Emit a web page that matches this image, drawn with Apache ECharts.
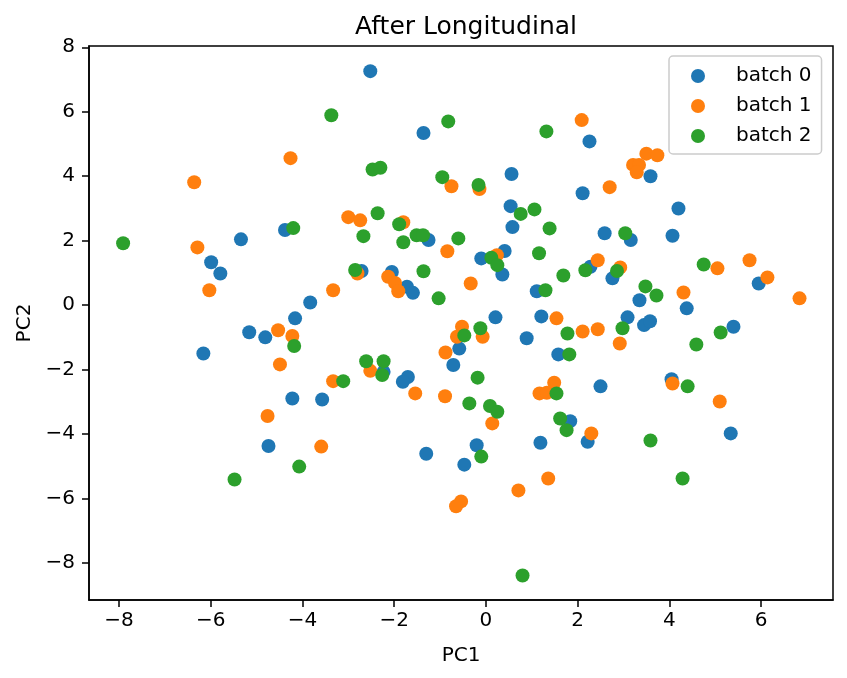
<!DOCTYPE html>
<html>
<head>
<meta charset="utf-8">
<script src="https://cdn.jsdelivr.net/npm/echarts@6/dist/echarts.min.js"></script>
<style>
  html, body { margin: 0; padding: 0; background: #fff; }
  #chart { width: 847px; height: 678px; }
</style>
</head>
<body>
<div id="chart"></div>
<script>
// values
const batchNames = ['batch 0', 'batch 1', 'batch 2'];
const colors = ['#1f77b4', '#ff7f0e', '#2ca02c'];

const batch0X = [-2.52, -1.36, -4.38, -1.25, -2.71, -2.05, -1.72, -1.59, -3.83, -4.16,
  -0.58, -0.71, -2.23, -1.70, -1.81, -4.22, -3.57, -5.34, -5.99, -5.79,
  -5.16, -4.81, -6.16, -4.74, -1.30, -0.47, -0.20, 1.19, 1.84, 2.22,
  5.34, 0.58, 2.59, 3.16, -0.10, 0.41, 0.36, 2.28, 2.76, 1.11,
  3.35, 3.09, 3.45, 3.58, 0.21, 1.21, 0.89, 1.58, 2.50, 2.26,
  3.59, 0.56, 2.11, 0.54, 4.20, 4.07, 5.95, 4.38, 5.40, 4.05];
const batch0Y = [7.26, 5.34, 2.33, 2.02, 1.06, 1.03, 0.57, 0.38, 0.08, -0.41,
  -1.35, -1.86, -2.07, -2.23, -2.38, -2.90, -2.93, 2.04, 1.33, 0.98,
  -0.84, -1.00, -1.50, -4.37, -4.61, -4.95, -4.35, -4.27, -3.60, -4.24,
  -3.98, 2.42, 2.23, 2.02, 1.45, 1.68, 0.95, 1.19, 0.83, 0.43,
  0.15, -0.38, -0.62, -0.50, -0.38, -0.35, -1.03, -1.53, -2.52, 5.08,
  4.00, 4.07, 3.47, 3.07, 3.00, 2.15, 0.67, -0.10, -0.67, -2.30];

const batch1X = [-6.36, -4.26, -0.75, -0.14, -3.00, -2.74, -1.80, -0.84, -2.80, -2.13,
  -1.98, -1.91, -0.33, -3.33, -4.53, -4.22, -4.49, -0.52, -0.63, -0.88,
  -2.52, -3.33, -1.54, -0.89, -6.29, -6.03, -4.76, -3.59, -0.54, -0.65,
  0.14, 2.30, 0.71, 1.36, 0.24, 2.44, 2.93, -0.07, 2.92, 1.54,
  2.11, 2.44, 1.49, 1.17, 1.33, 2.09, 3.50, 3.74, 3.21, 3.34,
  3.29, 2.70, 5.05, 5.75, 6.14, 6.84, 4.31, 4.07, 5.10];
const batch1Y = [3.81, 4.56, 3.69, 3.60, 2.73, 2.63, 2.57, 1.67, 0.98, 0.88,
  0.69, 0.43, 0.67, 0.46, -0.78, -0.96, -1.84, -0.67, -0.98, -1.47,
  -2.04, -2.36, -2.74, -2.83, 1.79, 0.46, -3.44, -4.39, -6.09, -6.24,
  -3.67, -3.98, -5.75, -5.38, 1.55, 1.39, 1.17, -0.98, -1.19, -0.41,
  -0.82, -0.75, -2.41, -2.74, -2.72, 5.74, 4.70, 4.65, 4.35, 4.35,
  4.12, 3.66, 1.14, 1.39, 0.86, 0.21, 0.39, -2.43, -2.99];

const batch2X = [-3.37, -0.82, -2.47, -2.30, -0.95, -0.16, -2.36, -1.89, -4.20, -2.67,
  -1.51, -1.37, -0.60, -1.80, -2.85, -1.36, -1.03, -4.18, -0.47, -0.12,
  -2.61, -2.23, -2.26, -3.11, -0.36, -0.18, -7.91, -5.48, -4.07, -0.10,
  1.62, 1.76, 3.59, 0.80, 4.29, 1.39, 3.04, 0.12, 0.25, 1.16,
  2.17, 2.86, 1.69, 1.30, 3.48, 3.72, 2.98, 1.78, 1.82, 1.54,
  0.09, 0.25, 1.32, 0.76, 1.06, 4.75, 5.12, 4.59, 4.40];
const batch2Y = [5.89, 5.70, 4.21, 4.26, 3.97, 3.73, 2.85, 2.51, 2.39, 2.14,
  2.17, 2.17, 2.07, 1.95, 1.09, 1.05, 0.21, -1.27, -0.94, -0.72,
  -1.74, -1.74, -2.17, -2.36, -3.05, -2.25, 1.92, -5.41, -5.01, -4.70,
  -3.52, -3.88, -4.20, -8.39, -5.38, 2.38, 2.23, 1.47, 1.24, 1.61,
  1.08, 1.06, 0.92, 0.46, 0.58, 0.30, -0.72, -0.88, -1.53, -2.74,
  -3.13, -3.31, 5.39, 2.83, 2.97, 1.26, -0.85, -1.22, -2.52];

const xTicks = [-8, -6, -4, -2, 0, 2, 4, 6];
const yTicks = [-8, -6, -4, -2, 0, 2, 4, 6, 8];

const xs = [batch0X, batch1X, batch2X];
const ys = [batch0Y, batch1Y, batch2Y];

function fmt(v) {
  return v < 0 ? '\u2212' + Math.abs(v) : String(v);
}

const font = 'DejaVu Sans';

const axisCommon = {
  type: 'value',
  splitLine: { show: false },
  axisLine: { show: true, onZero: false, lineStyle: { color: '#000', width: 1.5 } },
  nameLocation: 'middle',
  nameTextStyle: { color: '#000', fontSize: 20, fontFamily: font }
};

const chart = echarts.init(document.getElementById('chart'));
chart.setOption({
  animation: false,
  backgroundColor: '#fff',
  title: {
    text: 'After Longitudinal',
    left: 461,
    textAlign: 'center',
    top: 10,
    textStyle: { color: '#000', fontSize: 25, fontWeight: 'normal', fontFamily: font }
  },
  legend: {
    orient: 'vertical',
    left: 669,
    top: 56,
    data: batchNames,
    icon: 'circle',
    itemWidth: 14,
    itemHeight: 14,
    itemGap: 10,
    padding: [10, 10, 8, 22],
    backgroundColor: '#fff',
    borderColor: '#cccccc',
    borderWidth: 1.5,
    borderRadius: 4,
    textStyle: { color: '#000', fontSize: 20, fontFamily: font, lineHeight: 20, padding: [0, 0, 0, 26] }
  },
  grid: {
    left: 89, top: 46, right: 14, bottom: 78,
    show: true, borderColor: '#000', borderWidth: 1.5
  },
  xAxis: Object.assign({}, axisCommon, {
    min: -8.654, max: 7.57,
    name: 'PC1',
    nameGap: 46,
    axisTick: { show: true, inside: false, length: 7, customValues: xTicks, lineStyle: { color: '#000', width: 1.5 } },
    axisLabel: { customValues: xTicks, formatter: fmt, color: '#000', fontSize: 20, fontFamily: font, margin: 11 }
  }),
  yAxis: Object.assign({}, axisCommon, {
    min: -9.15, max: 8.04,
    name: 'PC2',
    nameGap: 52,
    axisTick: { show: true, inside: false, length: 7, customValues: yTicks, lineStyle: { color: '#000', width: 1.5 } },
    axisLabel: { customValues: yTicks, formatter: fmt, color: '#000', fontSize: 20, fontFamily: font, margin: 14 }
  }),
  series: batchNames.map((name, i) => ({
    name: name,
    type: 'scatter',
    symbol: 'circle',
    symbolSize: 14,
    itemStyle: { color: colors[i], opacity: 1 },
    data: xs[i].map((x, k) => [x, ys[i][k]])
  }))
});
</script>
</body>
</html>
